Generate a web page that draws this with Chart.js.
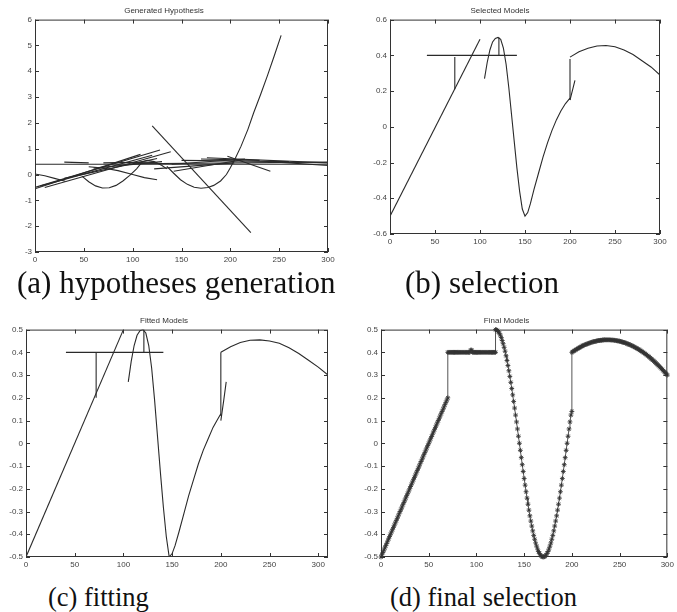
<!DOCTYPE html>
<html>
<head>
<meta charset="utf-8">
<script src="https://cdn.jsdelivr.net/npm/chart.js@4.4.1/dist/chart.umd.min.js"></script>
<style>
  body { margin: 0; background: #fff; width: 677px; height: 612px; position: relative; overflow: hidden; }
  .panel { position: absolute; }
  .cap { position: absolute; font-family: "Liberation Serif", "DejaVu Serif", serif; color: #111; white-space: nowrap; line-height: 1; }
  .cap.top { font-size: 31px; }
  .cap.bottom { font-size: 26.5px; }
</style>
</head>
<body>
<div class="panel" style="left:0;top:0;width:340px;height:268px"><canvas id="chartA"></canvas></div>
<div class="panel" style="left:340px;top:0;width:337px;height:252px"><canvas id="chartB"></canvas></div>
<div class="panel" style="left:0;top:310px;width:340px;height:263px"><canvas id="chartC"></canvas></div>
<div class="panel" style="left:340px;top:310px;width:337px;height:263px"><canvas id="chartD"></canvas></div>

<div class="cap top" style="left:17px;top:267px">(a) hypotheses generation</div>
<div class="cap top" style="left:405px;top:267px">(b) selection</div>
<div class="cap bottom" style="left:48px;top:584px">(c) fitting</div>
<div class="cap bottom" style="left:390px;top:584px">(d) final selection</div>

<script>
// shared x axis (samples 0..300)
const xTickValues = [0, 50, 100, 150, 200, 250, 300];

// (a) generated hypotheses, each one a list of [x, y]
const hypothesisLines = [
  [[0, 0.4], [300, 0.4]],
  [[135, 0.32], [142, 0.05], [149, -0.2], [156, -0.38], [163, -0.49], [170, -0.53], [177, -0.5], [183, -0.42],
   [190, -0.25], [196, 0.0], [200, 0.26], [205, 0.62], [211, 1.1], [218, 1.75], [224, 2.4], [231, 3.1],
   [238, 3.83], [245, 4.6], [252, 5.39]],
  [[120, 1.88], [221, -2.25]],
  [[48, -0.06], [55, -0.28], [62, -0.44], [69, -0.52], [76, -0.51], [83, -0.42], [90, -0.25], [97, -0.03],
   [104, 0.22], [110, 0.5]],
  [[0, 0.02], [10, -0.05], [20, -0.15], [31, -0.26]],
  [[55, 0.3], [70, 0.25], [85, 0.15], [100, 0.0], [112, -0.12], [125, -0.2]],
  [[0, -0.55], [108, 0.78]],
  [[0, -0.5], [128, 0.95]],
  [[10, -0.5], [139, 0.88]],
  [[5, -0.45], [120, 0.75]],
  [[30, -0.15], [125, 0.62]],
  [[60, 0.25], [130, 0.5]],
  [[30, 0.48], [55, 0.45]],
  [[70, 0.45], [120, 0.48]],
  [[122, 0.22], [204, 0.45]],
  [[142, 0.13], [214, 0.58]],
  [[176, 0.65], [300, 0.45]],
  [[197, 0.71], [241, 0.13]],
  [[150, 0.55], [260, 0.5]],
  [[240, 0.5], [300, 0.35]],
  [[100, 0.42], [300, 0.48]],
  [[140, 0.4], [215, 0.6]],
  [[170, 0.6], [230, 0.55]],
  [[105, 0.45], [115, 0.55], [122, 0.5], [130, 0.35], [135, 0.22]]
];

// (b) selected models
const selectedLines = [
  [[0, -0.5], [100, 0.49]],
  [[41, 0.4], [141, 0.4]],
  [[72, 0.39], [72, 0.21]],
  [[105, 0.27], [108, 0.36], [111, 0.43], [114, 0.475], [117, 0.495], [120, 0.5], [123, 0.49], [126, 0.44],
   [129, 0.35], [132, 0.22], [135, 0.07], [138, -0.08], [141, -0.23], [144, -0.36], [147, -0.46],
   [150, -0.5], [153, -0.48], [156, -0.43], [160, -0.35], [165, -0.26], [170, -0.17], [175, -0.09],
   [180, -0.02], [185, 0.04], [190, 0.09], [195, 0.13], [200, 0.16]],
  [[121, 0.4], [121, 0.5]],
  [[200, 0.39], [210, 0.42], [220, 0.44], [230, 0.452], [240, 0.455], [250, 0.448], [260, 0.43], [270, 0.405],
   [280, 0.37], [290, 0.335], [300, 0.29]],
  [[200, 0.38], [200, 0.15]],
  [[200, 0.15], [203, 0.21], [205.5, 0.26]]
];

// (c) fitted models (this panel's axis runs a little past 300)
const fittedXMax = 310;
const fittedLines = [
  [[0, -0.5], [100, 0.5]],
  [[41, 0.4], [141, 0.4]],
  [[72, 0.4], [72, 0.2]],
  [[105, 0.27], [108, 0.36], [111, 0.43], [114, 0.475], [117, 0.495], [120, 0.5], [123, 0.485], [126, 0.43],
   [129, 0.33], [132, 0.19], [135, 0.03], [138, -0.13], [141, -0.28], [144, -0.41], [147, -0.5],
   [150, -0.485], [153, -0.45], [157, -0.39], [162, -0.31], [167, -0.23], [172, -0.16], [177, -0.09],
   [182, -0.03], [187, 0.02], [192, 0.07], [196, 0.1], [200, 0.13]],
  [[121, 0.4], [121, 0.5]],
  [[200, 0.4], [210, 0.425], [220, 0.443], [230, 0.453], [240, 0.455], [250, 0.45], [260, 0.44], [270, 0.42],
   [280, 0.395], [290, 0.365], [300, 0.335], [310, 0.3]],
  [[200, 0.4], [200, 0.12]],
  [[200, 0.1], [203, 0.19], [205.5, 0.27]]
];

// (d) final selection, one value per sample (step 1)
const finalLinearY = [                                                       // x = 0..70
  -0.50, -0.49, -0.48, -0.47, -0.46, -0.45, -0.44, -0.43, -0.42, -0.41,
  -0.40, -0.39, -0.38, -0.37, -0.36, -0.35, -0.34, -0.33, -0.32, -0.31,
  -0.30, -0.29, -0.28, -0.27, -0.26, -0.25, -0.24, -0.23, -0.22, -0.21,
  -0.20, -0.19, -0.18, -0.17, -0.16, -0.15, -0.14, -0.13, -0.12, -0.11,
  -0.10, -0.09, -0.08, -0.07, -0.06, -0.05, -0.04, -0.03, -0.02, -0.01,
  0.00, 0.01, 0.02, 0.03, 0.04, 0.05, 0.06, 0.07, 0.08, 0.09,
  0.10, 0.11, 0.12, 0.13, 0.14, 0.15, 0.16, 0.17, 0.18, 0.19,
  0.20];
const finalFlatY = [                                                         // x = 70..120
  0.40, 0.40, 0.40, 0.40, 0.40, 0.40, 0.40, 0.40, 0.40, 0.40,
  0.40, 0.40, 0.40, 0.40, 0.40, 0.40, 0.40, 0.40, 0.40, 0.40,
  0.40, 0.40, 0.40, 0.40, 0.41, 0.41, 0.40, 0.40, 0.40, 0.40,
  0.40, 0.40, 0.40, 0.40, 0.40, 0.40, 0.40, 0.40, 0.40, 0.40,
  0.40, 0.40, 0.40, 0.40, 0.40, 0.40, 0.40, 0.40, 0.40, 0.40,
  0.40];
const finalCosY = [                                                          // x = 120..200
  0.500, 0.499, 0.496, 0.491, 0.484, 0.476, 0.465, 0.452, 0.438, 0.422,
  0.405, 0.385, 0.364, 0.342, 0.319, 0.294, 0.268, 0.241, 0.213, 0.184,
  0.155, 0.124, 0.094, 0.063, 0.031, 0.000, -0.031, -0.063, -0.094, -0.124,
  -0.155, -0.184, -0.213, -0.241, -0.268, -0.294, -0.319, -0.342, -0.364, -0.385,
  -0.405, -0.422, -0.438, -0.452, -0.465, -0.476, -0.484, -0.491, -0.496, -0.499,
  -0.500, -0.499, -0.496, -0.491, -0.484, -0.476, -0.465, -0.452, -0.438, -0.422,
  -0.405, -0.385, -0.364, -0.342, -0.319, -0.294, -0.268, -0.241, -0.213, -0.184,
  -0.155, -0.124, -0.094, -0.063, -0.031, 0.000, 0.031, 0.063, 0.094, 0.124,
  0.140];
const finalQuadY = [                                                         // x = 200..300
  0.400, 0.403, 0.406, 0.408, 0.411, 0.414, 0.416, 0.419, 0.421, 0.423,
  0.426, 0.428, 0.430, 0.432, 0.434, 0.435, 0.437, 0.439, 0.440, 0.442,
  0.443, 0.445, 0.446, 0.447, 0.448, 0.449, 0.450, 0.451, 0.452, 0.452,
  0.453, 0.453, 0.454, 0.454, 0.455, 0.455, 0.455, 0.455, 0.455, 0.455,
  0.455, 0.454, 0.454, 0.454, 0.453, 0.453, 0.452, 0.451, 0.450, 0.450,
  0.449, 0.448, 0.446, 0.445, 0.444, 0.443, 0.441, 0.440, 0.438, 0.436,
  0.435, 0.433, 0.431, 0.429, 0.427, 0.425, 0.422, 0.420, 0.418, 0.415,
  0.413, 0.410, 0.407, 0.405, 0.402, 0.399, 0.396, 0.393, 0.390, 0.386,
  0.383, 0.380, 0.376, 0.372, 0.369, 0.365, 0.361, 0.357, 0.353, 0.349,
  0.345, 0.341, 0.337, 0.332, 0.328, 0.323, 0.319, 0.314, 0.309, 0.305,
  0.300];

const INK = '#2a2a2a';
const TICK_FONT = { family: '"Liberation Sans", Arial, sans-serif', size: 8 };

// box around the plot area plus inward ticks on all four sides, like matlab
const boxTicks = {
  id: 'boxTicks',
  afterDatasetsDraw(chart) {
    const { ctx, chartArea: a, scales: { x, y } } = chart;
    ctx.save();
    ctx.strokeStyle = '#333';
    ctx.lineWidth = 1;
    ctx.strokeRect(a.left + 0.5, a.top + 0.5, a.right - a.left - 1, a.bottom - a.top - 1);
    ctx.beginPath();
    x.ticks.forEach(t => {
      const px = Math.round(x.getPixelForValue(t.value)) + 0.5;
      ctx.moveTo(px, a.bottom); ctx.lineTo(px, a.bottom - 4);
      ctx.moveTo(px, a.top); ctx.lineTo(px, a.top + 4);
    });
    y.ticks.forEach(t => {
      const py = Math.round(y.getPixelForValue(t.value)) + 0.5;
      ctx.moveTo(a.left, py); ctx.lineTo(a.left + 4, py);
      ctx.moveTo(a.right, py); ctx.lineTo(a.right - 4, py);
    });
    ctx.stroke();
    ctx.restore();
  }
};

function toPoints(list) {
  return list.map(([x, y]) => ({ x, y }));
}

function lineSets(lines, width) {
  return lines.map(pts => ({
    data: toPoints(pts),
    borderColor: INK,
    borderWidth: width,
    pointRadius: 0,
    tension: 0
  }));
}

function makeChart(id, opts) {
  const { datasets, title, xMax = 300, yMin, yMax, yStep, yWidth, xHeight, padRight } = opts;
  return new Chart(document.getElementById(id), {
    type: 'line',
    data: { datasets },
    plugins: [boxTicks],
    options: {
      responsive: true,
      maintainAspectRatio: false,
      animation: false,
      layout: { padding: { left: 0, right: padRight, top: 0, bottom: 0 } },
      plugins: {
        legend: { display: false },
        tooltip: { enabled: false },
        title: {
          display: true,
          text: title,
          color: '#333',
          font: { family: TICK_FONT.family, size: 8, weight: 'normal' },
          padding: { top: 6, bottom: 4 }
        }
      },
      scales: {
        x: {
          type: 'linear',
          min: 0,
          max: xMax,
          afterBuildTicks: s => { s.ticks = xTickValues.map(v => ({ value: v })); },
          afterFit: s => { s.height = xHeight; },
          grid: { display: false, drawTicks: false },
          border: { display: false },
          ticks: { color: '#444', font: TICK_FONT, padding: 3, maxRotation: 0 }
        },
        y: {
          type: 'linear',
          min: yMin,
          max: yMax,
          afterFit: s => { s.width = yWidth; },
          grid: { display: false, drawTicks: false },
          border: { display: false },
          ticks: { stepSize: yStep, color: '#444', font: TICK_FONT, padding: 3 }
        }
      }
    }
  });
}

makeChart('chartA', {
  datasets: lineSets(hypothesisLines, 1.1),
  title: 'Generated Hypothesis',
  yMin: -3, yMax: 6, yStep: 1,
  yWidth: 35, xHeight: 16, padRight: 12
});

makeChart('chartB', {
  datasets: lineSets(selectedLines, 1.1),
  title: 'Selected Models',
  yMin: -0.6, yMax: 0.6, yStep: 0.2,
  yWidth: 50, xHeight: 18, padRight: 17
});

makeChart('chartC', {
  datasets: lineSets(fittedLines, 1.1),
  title: 'Fitted Models',
  xMax: fittedXMax,
  yMin: -0.5, yMax: 0.5, yStep: 0.1,
  yWidth: 26, xHeight: 16, padRight: 12
});

// (d): all segments joined into one starred line
const finalPoints = [];
finalLinearY.forEach((y, i) => finalPoints.push({ x: i, y }));
finalFlatY.forEach((y, i) => finalPoints.push({ x: 70 + i, y }));
finalCosY.forEach((y, i) => finalPoints.push({ x: 120 + i, y }));
finalQuadY.forEach((y, i) => finalPoints.push({ x: 200 + i, y }));

makeChart('chartD', {
  datasets: [{
    data: finalPoints,
    borderColor: '#555',
    borderWidth: 1,
    pointStyle: 'star',
    pointRadius: 2.4,
    pointBorderColor: '#333',
    pointBorderWidth: 0.9,
    tension: 0,
    clip: 4
  }],
  title: 'Final Models',
  yMin: -0.5, yMax: 0.5, yStep: 0.1,
  yWidth: 41, xHeight: 16, padRight: 4
});
</script>
</body>
</html>
